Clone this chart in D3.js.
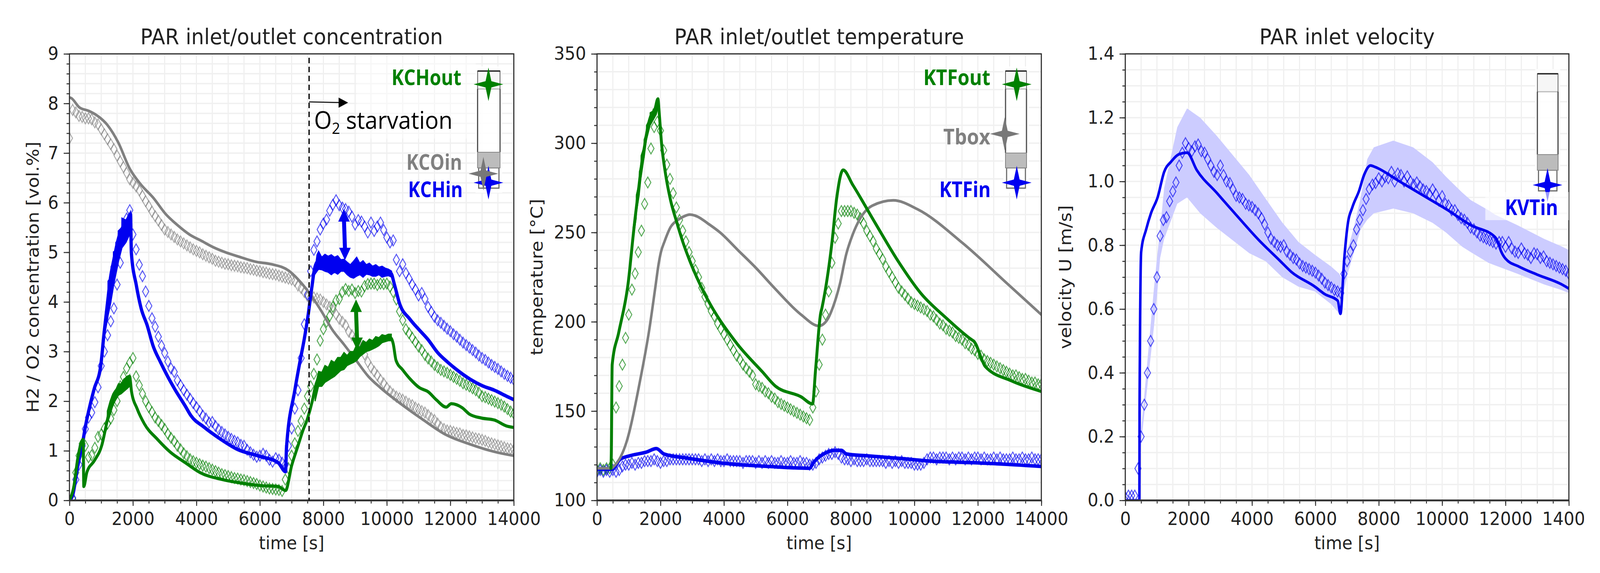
<!DOCTYPE html>
<html>
<head>
<meta charset="utf-8">
<script src="https://d3js.org/d3.v7.min.js"></script>
<style>
  html, body { margin: 0; padding: 0; background: #fff; overflow: hidden; }
  svg { display: block; }
  text { font-family: "DejaVu Sans", sans-serif; fill: #222; }
  .note { font-family: "Open Sans", sans-serif; }
</style>
</head>
<body>
<script>
// time base of the measured points (one marker every 100 s)
const expTime = d3.range(0, 14100, 100);
const majorX = [0, 2000, 4000, 6000, 8000, 10000, 12000, 14000];
const minorX = d3.range(0, 14500, 500);

// panel 1: measured concentrations
const KCHinExp = [
  0,.05,.42,.72,1.1,1.44,1.67,1.77,1.98,2.28,
  2.71,3.0,3.33,3.61,3.87,4.35,4.79,5.3,5.68,5.85,
  5.36,5.06,4.75,4.52,4.21,3.92,3.67,3.5,3.3,3.12,
  2.97,2.8,2.66,2.59,2.42,2.32,2.22,2.13,2.05,1.96,
  1.88,1.8,1.71,1.65,1.57,1.58,1.5,1.43,1.38,1.33,
  1.28,1.24,1.2,1.17,1.12,1.1,1.02,.97,.92,.88,
  .9,.94,.9,.82,.78,.85,.82,.76,.72,1.1,
  1.45,1.85,2.22,2.87,3.55,4.15,4.62,5.05,5.22,5.46,
  5.58,5.66,5.84,5.96,6.05,5.95,5.9,5.87,5.82,5.72,
  5.56,5.65,5.62,5.52,5.4,5.6,5.43,5.52,5.6,5.45,
  5.3,5.2,5.24,4.85,4.62,4.76,4.58,4.47,4.35,4.25,
  4.13,4.18,4.06,3.9,3.8,3.7,3.63,3.58,3.52,3.46,
  3.41,3.35,3.3,3.24,3.18,3.13,3.08,3.03,2.98,2.92,
  2.87,2.83,2.78,2.73,2.69,2.65,2.6,2.55,2.51,2.47,
  2.43];
const KCHoutExp = [
  0,.03,.56,.9,1.14,1.1,.87,.91,1.06,1.28,
  1.33,1.45,1.55,1.65,1.82,2.0,2.3,2.49,2.66,2.78,
  2.87,2.5,2.32,2.15,2.0,1.88,1.78,1.67,1.6,1.52,
  1.44,1.34,1.26,1.19,1.1,1.03,.95,.89,.83,.79,
  .76,.73,.7,.68,.65,.62,.59,.56,.53,.51,
  .49,.47,.45,.44,.42,.41,.39,.37,.35,.33,
  .3,.28,.26,.24,.23,.22,.21,.19,.42,.65,
  .9,1.15,1.4,1.6,1.85,2.1,2.3,2.55,2.84,3.22,
  3.45,3.6,3.72,3.9,4.03,4.06,4.2,4.26,4.22,4.25,
  4.18,4.22,4.21,4.32,4.36,4.37,4.37,4.34,4.37,4.36,
  4.37,4.31,4.2,4.05,3.81,3.63,3.45,3.37,3.28,3.19,
  3.1,3.03,2.93,2.86,2.8,2.73,2.68,2.63,2.6,2.57,
  2.53,2.49,2.45,2.41,2.36,2.33,2.3,2.26,2.22,2.17,
  2.1,2.08,2.05,2.02,1.99,1.96,1.93,1.89,1.84,1.79,
  1.75];
const KCOinExp = [
  7.3,7.87,7.82,7.75,7.73,7.7,7.7,7.68,7.62,7.58,
  7.48,7.38,7.28,7.18,7.08,6.95,6.83,6.72,6.6,6.47,
  6.4,6.33,6.25,6.14,6.03,5.93,5.82,5.73,5.64,5.55,
  5.46,5.41,5.36,5.31,5.26,5.22,5.18,5.14,5.1,5.06,
  5.03,5.0,4.96,4.93,4.9,4.87,4.83,4.81,4.79,4.77,
  4.76,4.74,4.73,4.72,4.7,4.69,4.68,4.66,4.65,4.63,
  4.62,4.6,4.59,4.57,4.56,4.55,4.53,4.51,4.49,4.47,
  4.45,4.42,4.33,4.28,4.2,4.12,4.1,4.09,4.07,4.05,
  4.0,3.95,3.9,3.84,3.75,3.66,3.6,3.53,3.4,3.33,
  3.26,3.18,3.05,2.94,2.79,2.68,2.6,2.52,2.43,2.36,
  2.27,2.2,2.14,2.09,2.06,2.03,1.99,1.95,1.92,1.87,
  1.84,1.8,1.77,1.72,1.66,1.62,1.55,1.48,1.44,1.41,
  1.4,1.38,1.36,1.35,1.32,1.31,1.29,1.27,1.25,1.24,
  1.22,1.2,1.17,1.15,1.13,1.11,1.09,1.07,1.05,1.04,
  1.02];

// panel 1: model lines
const KCHinTime = [0,100,250,433,491,667,775,984,1098,1193,1288,1402,1535,1649,1800,1923,1950,2105,2258,2447,2637,2865,3093,3320,3650,3826,4235,4703,5288,5990,6575,6809,6838,7098,7260,7400,7530,7640,7725,7834,8271,8653,9034,9416,9800,10126,10235,10400,10730,11000,11300,11600,11910,12250,12630,13010,13390,13770,14000];
const KCHinModel = [0,.1,.65,1.23,1.45,1.97,2.24,2.71,3.42,3.95,4.47,4.86,5.26,5.47,5.6,5.77,4.99,4.34,3.87,3.53,3.11,2.79,2.5,2.24,1.9,1.71,1.48,1.26,1.03,.89,.76,.58,1.06,2.21,2.79,3.26,3.78,4.31,4.68,4.82,4.75,4.75,4.66,4.68,4.6,4.58,4.36,3.97,3.65,3.45,3.24,2.98,2.79,2.61,2.44,2.31,2.22,2.1,2.03];
const KCHoutTime = [0,140,257,433,450,550,784,1018,1193,1369,1603,1895,1954,2130,2363,2773,3182,3650,4118,4820,5405,5990,6575,6809,7000,7200,7350,7500,7650,7750,7890,8271,8653,9034,9416,9800,10126,10200,10290,10500,10730,11030,11300,11570,11870,12030,12370,12600,12980,13390,13770,14000];
const KCHoutModel = [0,.29,.83,1.23,.28,.57,.8,1.11,1.62,2.1,2.3,2.5,2.2,1.85,1.54,1.23,.97,.76,.56,.42,.35,.3,.28,.2,.7,1.1,1.4,1.65,2.0,2.3,2.5,2.62,2.83,2.95,3.12,3.25,3.27,3.16,2.82,2.63,2.45,2.27,2.19,2.02,1.88,1.95,1.87,1.74,1.66,1.62,1.5,1.47];
const KCOinTime = [0,50,315,610,840,1190,1540,1895,2245,2640,3020,3400,3780,4160,4540,4920,5300,5870,6361,6907,7180,7534,7943,8271,8653,9034,9416,9800,10370,11110,11870,12630,13390,14000];
const KCOinModel = [8.12,8.11,7.92,7.85,7.77,7.57,7.21,6.69,6.37,6.1,5.78,5.55,5.36,5.23,5.1,5.0,4.92,4.81,4.76,4.63,4.47,4.2,3.81,3.45,3.14,2.82,2.5,2.27,1.98,1.64,1.32,1.13,.98,.9];

// panel 1: oscillation envelopes of the model lines
const KCHinRiseTime = [1100,1212,1215,1307,1310,1383,1386,1459,1462,1535,1538,1649,1652,1780,1923];
const KCHinRiseHigh = [3.5,4.0,4.42,4.5,4.71,4.8,5.01,5.03,5.2,5.25,5.43,5.5,5.69,5.65,5.82];
const KCHinRiseLow = [3.3,3.7,3.72,4.0,4.02,4.3,4.32,4.55,4.56,4.78,4.8,5.08,5.09,5.2,5.4];
const KCHinStarvTime = [7725,7800,7850,7950,8050,8150,8250,8350,8450,8550,8650,8750,8850,8950,9050,9150,9250,9350,9450,9550,9650,9750,9850,9950,10050,10150];
const KCHinStarvHigh = [4.6,4.95,5.02,4.9,4.96,4.92,4.95,4.9,4.93,4.85,4.86,4.8,4.75,4.82,4.9,4.78,4.83,4.75,4.78,4.72,4.75,4.7,4.72,4.68,4.66,4.62];
const KCHinStarvLow = [4.55,4.62,4.66,4.65,4.62,4.6,4.55,4.6,4.56,4.62,4.62,4.55,4.5,4.48,4.52,4.55,4.5,4.56,4.55,4.52,4.52,4.55,4.5,4.52,4.53,4.5];
const KCHoutRiseTime = [1193,1280,1369,1450,1544,1630,1720,1810,1895];
const KCHoutRiseHigh = [1.8,2.0,2.15,2.22,2.35,2.35,2.45,2.42,2.52];
const KCHoutRiseLow = [1.55,1.72,1.92,2.02,2.12,2.15,2.2,2.25,2.3];
const KCHoutStarvTime = [7740,7850,7950,8050,8150,8250,8350,8450,8550,8650,8750,8850,8950,9050,9150,9250,9350,9450,9550,9650,9750,9850,9950,10050,10140];
const KCHoutStarvHigh = [2.3,2.6,2.58,2.72,2.68,2.82,2.78,2.88,2.88,2.98,2.92,3.0,3.0,3.14,3.08,3.22,3.18,3.25,3.22,3.3,3.28,3.34,3.32,3.35,3.35];
const KCHoutStarvLow = [2.0,2.3,2.3,2.38,2.42,2.46,2.5,2.56,2.62,2.64,2.72,2.75,2.78,2.82,2.9,2.95,3.0,3.02,3.05,3.08,3.12,3.18,3.2,3.22,3.22];

// panel 2: measured temperatures
const KTFoutExp = [
  117,118,117,118,118,120,152,164,176,191,
  204,218,227,239,251,266,278,297,309,312,
  307,296,288,280,272,264,257,251,245,239,
  234,229,225,219,214,210,206,203,199,196,
  193,190,187,184,181,179,176,174,172,170,
  165,164,163,161,160,158,157,155,154,153,
  152,151,150,149,148,147,146,145,152,161,
  176,190,204,217,233,247,255,262,262,262,
  262,261,260,258,255,251,248,245,241,238,
  235,231,228,225,222,219,217,215,213,211,
  210,209,208,207,206,204,203,201,199,198,
  196,195,194,192,191,190,188,187,185,184,
  182,181,179,178,177,176,175,174,173,172,
  171,170,170,169,168,168,167,166,166,165,
  165];
const KTFinExp = [
  116,117,116,117,116,117,116,117,119,120,
  120,121,120,121,121,122,122,122,123,122,
  121,122,122,123,123,123,123,123,123,123,
  123,123,123,122,123,122,123,122,123,122,
  122,123,122,122,122,122,121,122,122,122,
  121,122,121,122,121,122,121,121,122,121,
  121,122,121,121,122,121,121,120,120,121,
  123,124,125,126,126,127,126,124,123,123,
  122,123,122,122,122,123,122,122,122,122,
  122,121,122,121,122,121,122,121,121,121,
  120,120,120,121,123,124,124,123,124,124,
  124,123,124,123,124,124,123,124,123,124,
  124,123,124,123,123,124,123,124,123,123,
  123,124,123,123,124,123,123,124,123,123,
  123];

// panel 2: model lines
const KTFoutTime = [440,450,478,684,935,969,1140,1197,1292,1406,1520,1596,1710,1824,1919,1957,2033,2166,2318,2508,2698,2926,3192,3382,4400,5210,5620,6430,6790,6890,7040,7090,7400,7550,7755,8060,8775,9485,10200,11010,11800,11880,11950,12100,12230,13050,14000];
const KTFoutModel = [118,126,176,194,216,220,248.4,257.7,271.6,288.3,300.7,308.7,316,319,324.8,317.5,300,282,268,256,245,234,223,216,188,172,164,158,154,174,204,208,244,269,285,276.6,255,234,216,202,190,189,187,180,175,167,161];
const KTFinTime = [0,480,730,1038,1550,1870,2110,2870,3890,5415,6690,6840,7250,7480,7700,7860,8470,9485,10500,12030,14000];
const KTFinModel = [117.5,117.5,123,125,127,129,126,123.6,121,119,118,121.6,127,128,128,126,125,123.6,122,121,119];
const TboxTime = [0,450,527,935,1345,1650,1843,1938,2014,2128,2318,2546,2736,2926,3154,3496,3876,4446,5016,5586,6430,6990,7250,7450,7650,7855,8060,8265,8675,9335,10100,11525,12950,14000];
const TboxModel = [118,118,119,133,166,196,220,232,239,245,253,257,259,260,259,255,250,240,230,219,204,197.7,201,209,221,238,249,257,265,268,263,244,221,204];
const KTFoutRiseTime = [1140,1235,1240,1330,1335,1387,1390,1482,1485,1558,1560,1672,1675,1767,1770,1862,1865,1919];
const KTFoutRiseHigh = [253,263,271,278,284,288,293,298,302,306,310,314,317,318,319,320,323,325];
const KTFoutRiseLow = [247,258,261,271,272,281,281,292,292,302,302,310,310,313,313,316,316,320];

// panel 3: velocity
const KVTinExp = [
  .01,.015,.015,.015,.1,.2,.3,.4,.5,.6,
  .7,.829,.879,.888,.938,.969,.997,1.05,1.09,1.12,
  1.105,1.095,1.11,1.116,1.095,1.09,1.07,1.05,1.03,1.02,
  1.05,1.02,1.0,.995,.975,.955,.95,.945,.93,.925,
  .92,.91,.9,.885,.865,.84,.82,.81,.8,.795,
  .8,.78,.77,.76,.755,.743,.735,.73,.725,.72,
  .714,.705,.695,.683,.675,.668,.66,.655,.65,.71,
  .75,.78,.8,.85,.88,.91,.945,.976,.99,.995,
  1.01,1.0,1.014,1.01,1.03,1.0,1.025,1.02,1.0,1.016,
  1.0,.99,.997,.985,.975,.97,.96,.975,.96,.94,
  .954,.93,.925,.91,.91,.895,.885,.88,.87,.855,
  .85,.84,.83,.825,.82,.815,.81,.805,.81,.81,
  .795,.81,.79,.78,.776,.79,.775,.77,.76,.775,
  .772,.76,.765,.75,.745,.74,.735,.73,.725,.72,
  .71];
const KVTinTime = [0,445,451,502,660,810,1020,1227,1455,1690,1950,2260,2880,3500,4225,4845,5258,5985,6290,6705,6790,6910,7017,7170,7376,7535,7740,7866,8626,9386,10146,10906,11666,11760,11856,12008,12426,12996,13756,14000];
const KVTinModel = [0,0,.3,.78,.85,.9,.95,1.03,1.063,1.085,1.09,1.035,.965,.895,.815,.755,.715,.67,.647,.626,.585,.757,.863,.92,.97,1.02,1.05,1.046,1.002,.957,.912,.863,.826,.81,.782,.757,.733,.708,.678,.664];
const KVTinBandTime = [400,500,600,700,800,900,1000,1100,1227,1640,1950,2365,2880,3397,3915,4430,4950,5467,5985,6500,6760,6800,6910,7017,7223,7430,7637,7843,8460,9085,9700,10120,10636,10910,11460,11666,12390,13220,13756,14000];
const KVTinBandHigh = [.11,.22,.33,.44,.55,.66,.76,.85,.98,1.17,1.229,1.2,1.144,1.082,1.02,.946,.872,.81,.77,.733,.71,.7,.73,.785,.86,.95,1.07,1.107,1.128,1.107,1.06,1.015,.965,.941,.91,.896,.862,.82,.797,.785];
const KVTinBandLow = [.09,.18,.27,.36,.45,.54,.64,.76,.82,.93,.95,.9,.855,.815,.775,.75,.7,.67,.655,.615,.585,.58,.66,.71,.78,.85,.88,.9,.915,.9,.87,.84,.795,.778,.745,.737,.71,.677,.66,.65];

const GREEN = "#008000", BLUE = "#0000f0", GRAY = "#808080";

// the drawing is laid out in 4422x1468 units and fitted to whatever window it gets
const svg = d3.select("body").append("svg")
  .attr("width", window.innerWidth).attr("height", window.innerHeight)
  .attr("viewBox", "0 0 4422 1468").attr("preserveAspectRatio", "none");
const defs = svg.append("defs");
defs.append("clipPath").attr("id", "pageClip")
  .append("rect").attr("x", 0).attr("y", 0).attr("width", 4378).attr("height", 1468);
const page = svg.append("g").attr("clip-path", "url(#pageClip)");

const thinDiamond = {
  draw(ctx) {
    ctx.moveTo(0, -14); ctx.lineTo(8.5, 0); ctx.lineTo(0, 14); ctx.lineTo(-8.5, 0); ctx.closePath();
  }
};
const star4 = {
  draw(ctx) {
    const a = 41, b = 43, c = 8;
    ctx.moveTo(0, -b); ctx.lineTo(c, -c); ctx.lineTo(a, 0); ctx.lineTo(c, c);
    ctx.lineTo(0, b); ctx.lineTo(-c, c); ctx.lineTo(-a, 0); ctx.lineTo(-c, -c); ctx.closePath();
  }
};

function makePanel(cfg) {
  const g = page.append("g").attr("transform", `translate(${cfg.left},138)`);
  const w = cfg.right - cfg.left, h = 1144;
  const x = d3.scaleLinear().domain([0, 14000]).range([0, w]);
  const y = d3.scaleLinear().domain(cfg.yDomain).range([h, 0]);

  const clipId = "plot" + cfg.left;
  defs.append("clipPath").attr("id", clipId).append("rect").attr("width", w).attr("height", h);

  g.selectAll(".gx").data(minorX).join("line")
    .attr("x1", x).attr("x2", x).attr("y1", 0).attr("y2", h)
    .attr("stroke", "#ececec").attr("stroke-width", 2.5);
  g.selectAll(".gy").data(cfg.minorY).join("line")
    .attr("y1", y).attr("y2", y).attr("x1", 0).attr("x2", w)
    .attr("stroke", "#f0f0f0").attr("stroke-width", 3.5);

  const plot = g.append("g").attr("clip-path", `url(#${clipId})`);
  const pick = (xs, ys) => xs.map((t, i) => [t, ys[i]]);
  const line = d3.line().x(d => x(d[0])).y(d => y(d[1])).curve(d3.curveMonotoneX);
  const sym = d3.symbol().type(thinDiamond);

  (cfg.bands || []).forEach(b => {
    const area = d3.area().x((d, i) => x(b.t[i])).y0((d, i) => y(b.lo[i])).y1((d, i) => y(b.hi[i]));
    if (b.under) plot.append("path").attr("d", area(b.t)).attr("fill", b.color).attr("stroke", "none");
  });
  (cfg.markers || []).forEach(m => {
    plot.append("g").selectAll("path").data(pick(expTime, m.values)).join("path")
      .attr("d", sym)
      .attr("transform", d => `translate(${x(d[0])},${y(d[1])})`)
      .attr("fill", "none").attr("stroke", m.color).attr("stroke-width", 2.6).attr("stroke-opacity", 0.65);
  });
  (cfg.lines || []).forEach(l => {
    plot.append("path").attr("d", line(pick(l.t, l.v)))
      .attr("fill", "none").attr("stroke", l.color).attr("stroke-width", l.width)
      .attr("stroke-linejoin", "round").attr("stroke-linecap", "round");
  });
  (cfg.bands || []).forEach(b => {
    const area = d3.area().x((d, i) => x(b.t[i])).y0((d, i) => y(b.lo[i])).y1((d, i) => y(b.hi[i]));
    if (!b.under) plot.append("path").attr("d", area(b.t)).attr("fill", b.color)
      .attr("stroke", b.color).attr("stroke-width", 3);
  });

  // axes, major and minor
  const ax = g.append("g").attr("transform", `translate(0,${h})`)
    .call(d3.axisBottom(x).tickValues(majorX).tickSize(14).tickPadding(16).tickFormat(d3.format("d")));
  const ay = g.append("g")
    .call(d3.axisLeft(y).tickValues(cfg.majorY).tickSize(16).tickPadding(14).tickFormat(cfg.fmt));
  g.append("g").attr("transform", `translate(0,${h})`)
    .call(d3.axisBottom(x).tickValues(minorX).tickSize(8).tickFormat(""));
  g.append("g").call(d3.axisLeft(y).tickValues(cfg.minorY).tickSize(8).tickFormat(""));
  g.selectAll(".domain").remove();
  g.selectAll(".tick line").attr("stroke", "#333").attr("stroke-width", 2.6);
  ax.selectAll("text").attr("font-size", 46.7).attr("font-family", "DejaVu Sans").attr("fill", "#222");
  ay.selectAll("text").attr("font-size", 46.7).attr("font-family", "DejaVu Sans").attr("fill", "#222");

  g.append("line").attr("x1", 0).attr("x2", w).attr("y1", h).attr("y2", h)
    .attr("stroke", "#555").attr("stroke-width", 5);
  g.append("rect").attr("width", w).attr("height", h)
    .attr("fill", "none").attr("stroke", "#2a2a2a").attr("stroke-width", 3);

  g.append("text").attr("x", w / 2).attr("y", -25).attr("text-anchor", "middle")
    .attr("font-size", 56).text(cfg.title);
  g.append("text").attr("x", w / 2).attr("y", 1407 - 138).attr("text-anchor", "middle")
    .attr("font-size", 46.7).text("time [s]");
  g.append("text").attr("transform", `translate(${cfg.yLabelX - cfg.left},${h / 2}) rotate(-90)`)
    .attr("text-anchor", "middle").attr("font-size", 46.7).text(cfg.yLabel);

  return { g, x, y };
}

function tube(left, right, top, bottom, blockTop, blockBottom) {
  page.append("rect").attr("x", left - 6).attr("y", top - 12).attr("width", right - left + 12).attr("height", bottom - top + 24)
    .attr("fill", "#fff").attr("fill-opacity", 0.85);
  page.append("rect").attr("x", left + 1).attr("y", top).attr("width", right - left - 2).attr("height", 46).attr("fill", "#f6f6f6");
  page.append("line").attr("x1", left).attr("x2", right).attr("y1", top + 46).attr("y2", top + 46)
    .attr("stroke", "#bbb").attr("stroke-width", 3);
  page.append("line").attr("x1", left).attr("x2", left).attr("y1", top + 46).attr("y2", blockTop)
    .attr("stroke", "#222").attr("stroke-width", 3);
  page.append("line").attr("x1", right).attr("x2", right).attr("y1", top + 46).attr("y2", blockTop)
    .attr("stroke", "#222").attr("stroke-width", 3);
  page.append("rect").attr("x", left).attr("y", top).attr("width", right - left).attr("height", blockBottom - top)
    .attr("fill", "none").attr("stroke", "#555").attr("stroke-width", 2);
  page.append("line").attr("x1", left).attr("x2", right).attr("y1", top).attr("y2", top)
    .attr("stroke", "#222").attr("stroke-width", 3.5);
  page.append("rect").attr("x", left + 3).attr("y", blockBottom)
    .attr("width", right - left - 6).attr("height", bottom - blockBottom)
    .attr("fill", "none").attr("stroke", "#666").attr("stroke-width", 3);
  page.append("rect").attr("x", left).attr("y", blockTop).attr("width", right - left).attr("height", blockBottom - blockTop)
    .attr("fill", "#bcbcbc").attr("stroke", "#888").attr("stroke-width", 2);
}
function star(cx, cy, color) {
  page.append("path").attr("d", d3.symbol().type(star4)).attr("transform", `translate(${cx},${cy})`).attr("fill", color);
}
function tag(label, x0, x1, baseline, color) {
  page.append("text").attr("class", "note").attr("x", x0).attr("y", baseline)
    .attr("font-size", 55).attr("font-weight", 700).attr("textLength", x1 - x0).attr("lengthAdjust", "spacingAndGlyphs")
    .style("fill", color).text(label);
}
function doubleArrow(panel, t0, v0, t1, v1, color) {
  const xa = panel.x(t0), ya = panel.y(v0), xb = panel.x(t1), yb = panel.y(v1);
  const p = d3.path(), headLen = 32, headHalf = 16;
  p.moveTo(xa, ya); p.lineTo(xa + headHalf, ya + headLen); p.lineTo(xa - headHalf, ya + headLen); p.closePath();
  p.moveTo(xb, yb); p.lineTo(xb + headHalf, yb - headLen); p.lineTo(xb - headHalf, yb - headLen); p.closePath();
  panel.g.append("path").attr("d", p).attr("fill", color);
  panel.g.append("line").attr("x1", xa).attr("y1", ya + headLen - 2).attr("x2", xb).attr("y2", yb - headLen + 2)
    .attr("stroke", color).attr("stroke-width", 11);
}

// left panel
const p1 = makePanel({
  left: 192, right: 1420, yDomain: [0, 9],
  majorY: d3.range(0, 10), minorY: d3.range(0, 9.01, 0.2), fmt: d3.format("d"),
  title: "PAR inlet/outlet concentration", yLabel: "H2 / O2 concentration [vol.%]", yLabelX: 107,
  markers: [
    { values: KCOinExp, color: GRAY },
    { values: KCHoutExp, color: GREEN },
    { values: KCHinExp, color: BLUE }
  ],
  lines: [
    { t: KCOinTime, v: KCOinModel, color: GRAY, width: 7 },
    { t: KCHinTime, v: KCHinModel, color: BLUE, width: 9 },
    { t: KCHoutTime, v: KCHoutModel, color: GREEN, width: 8 }
  ],
  bands: [
    { t: KCHinRiseTime, hi: KCHinRiseHigh, lo: KCHinRiseLow, color: BLUE },
    { t: KCHinStarvTime, hi: KCHinStarvHigh, lo: KCHinStarvLow, color: BLUE },
    { t: KCHoutRiseTime, hi: KCHoutRiseHigh, lo: KCHoutRiseLow, color: GREEN },
    { t: KCHoutStarvTime, hi: KCHoutStarvHigh, lo: KCHoutStarvLow, color: GREEN }
  ]
});
page.append("rect").attr("x", 985).attr("y", 145).attr("width", 330).attr("height", 210).attr("fill", "#fff").attr("fill-opacity", 0.45);
p1.g.append("line").attr("x1", p1.x(7550)).attr("x2", p1.x(7550)).attr("y1", 10).attr("y2", 1144)
  .attr("stroke", "#000").attr("stroke-width", 3.5).attr("stroke-dasharray", "14,9");
doubleArrow(p1, 8650, 5.87, 8680, 4.84, BLUE);
doubleArrow(p1, 9030, 4.05, 9060, 3.03, GREEN);
p1.g.append("line").attr("x1", p1.x(7550)).attr("y1", 123).attr("x2", p1.x(8700)).attr("y2", 125)
  .attr("stroke", "#000").attr("stroke-width", 2.5);
p1.g.append("path").attr("d", d3.line()([[p1.x(8480), 112], [p1.x(8780), 125], [p1.x(8480), 138]])).attr("fill", "#000");
const o2 = page.append("text").attr("class", "note").attr("x", 868).attr("y", 330).attr("font-size", 63).style("fill", "#000");
o2.append("tspan").text("O");
o2.append("tspan").attr("font-size", 40).attr("dy", 13).text("2");
o2.append("tspan").attr("dy", -13).text(" starvation");
tube(1320, 1382, 182, 482, 390, 430);
star(1350, 216, GREEN);
star(1350, 468, BLUE);
star(1336, 445, "#787878");
tag("KCHout", 1082, 1275, 218, GREEN);
tag("KCOin", 1123, 1277, 435, GRAY);
tag("KCHin", 1128, 1279, 505, BLUE);

// middle panel
makePanel({
  left: 1650, right: 2878, yDomain: [100, 350],
  majorY: d3.range(100, 351, 50), minorY: d3.range(100, 351, 10), fmt: d3.format("d"),
  title: "PAR inlet/outlet temperature", yLabel: "temperature [°C]", yLabelX: 1500,
  markers: [
    { values: KTFoutExp, color: GREEN },
    { values: KTFinExp, color: BLUE }
  ],
  lines: [
    { t: KTFinTime, v: KTFinModel, color: BLUE, width: 9 },
    { t: TboxTime, v: TboxModel, color: GRAY, width: 7 },
    { t: KTFoutTime, v: KTFoutModel, color: GREEN, width: 8 }
  ],
  bands: [
    { t: KTFoutRiseTime, hi: KTFoutRiseHigh, lo: KTFoutRiseLow, color: GREEN }
  ]
});
tube(2779, 2837, 182, 482, 392, 430);
star(2810, 216, GREEN);
star(2810, 468, BLUE);
star(2777, 343, "#787878");
tag("KTFout", 2552, 2737, 218, GREEN);
tag("Tbox", 2607, 2737, 370, GRAY);
tag("KTFin", 2596, 2738, 505, BLUE);

// right panel
makePanel({
  left: 3110, right: 4336, yDomain: [0, 1.4],
  majorY: d3.range(0, 1.41, 0.2), minorY: d3.range(0, 1.41, 0.05), fmt: d3.format(".1f"),
  title: "PAR inlet velocity", yLabel: "velocity U [m/s]", yLabelX: 2960,
  markers: [
    { values: KVTinExp, color: BLUE }
  ],
  lines: [
    { t: KVTinTime, v: KVTinModel, color: BLUE, width: 7 }
  ],
  bands: [
    { t: KVTinBandTime, hi: KVTinBandHigh, lo: KVTinBandLow, color: "#ccccff", under: true }
  ]
});
tube(4249, 4306, 189, 489, 396, 436);
star(4277, 474, BLUE);
page.append("rect").attr("x", 4105).attr("y", 492).attr("width", 231).attr("height", 72).attr("fill", "#fff").attr("fill-opacity", 0.6);
tag("KVTin", 4159, 4306, 551, BLUE);
</script>
</body>
</html>
